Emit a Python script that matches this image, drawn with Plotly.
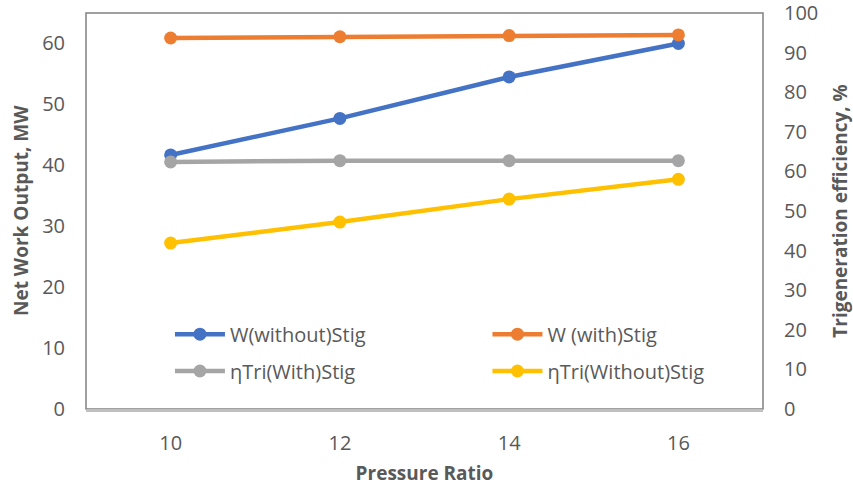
import plotly.graph_objects as go

pressure_ratio = [10, 12, 14, 16]
w_without_stig = [41.7, 47.7, 54.5, 60.0]
w_with_stig = [60.9, 61.1, 61.3, 61.4]
eta_tri_with_stig = [62.4, 62.7, 62.7, 62.7]
eta_tri_without_stig = [41.9, 47.2, 53.0, 58.0]

x_ticks = [10, 12, 14, 16]
left_ticks = [0, 10, 20, 30, 40, 50, 60]
right_ticks = [0, 10, 20, 30, 40, 50, 60, 70, 80, 90, 100]

FONT = "Open Sans"
TXT = "#595959"

series = [
    ("W(without)Stig", w_without_stig, "y", "#4472C4", "legend"),
    ("W (with)Stig", w_with_stig, "y", "#ED7D31", "legend2"),
    ("\u03b7Tri(With)Stig", eta_tri_with_stig, "y2", "#A5A5A5", "legend3"),
    ("\u03b7Tri(Without)Stig", eta_tri_without_stig, "y2", "#FFC000", "legend4"),
]

fig = go.Figure()
for name, vals, yax, color, leg in series:
    fig.add_trace(go.Scatter(
        x=pressure_ratio, y=vals, name=name, yaxis=yax, mode="lines+markers",
        line=dict(color=color, width=4.5),
        marker=dict(color=color, size=13),
        legend=leg, showlegend=True,
    ))

def legend_box(x, y):
    return dict(x=x, y=y, xanchor="left", yanchor="middle", bgcolor="rgba(0,0,0,0)",
                font=dict(family=FONT, size=20, color=TXT), itemwidth=50)

title_font = dict(family=FONT, size=19, color=TXT)
tick_font = dict(family=FONT, size=20, color=TXT)

fig.update_layout(
    width=853, height=486,
    margin=dict(l=86, r=90, t=13, b=77, autoexpand=False),
    showlegend=True,
    plot_bgcolor="white", paper_bgcolor="white",
    font=dict(family=FONT, color=TXT, size=20),
    xaxis=dict(
        range=[9, 17], tickvals=x_ticks, showgrid=False, zeroline=False,
        showline=True, linecolor="#BFBFBF", linewidth=3, ticks="",
        ticklabelstandoff=14, automargin=False,
        tickfont=tick_font,
        title=dict(text="<b>Pressure Ratio</b>", font=title_font, standoff=16),
    ),
    yaxis=dict(
        range=[0, 65], tickvals=left_ticks, showgrid=False, zeroline=False,
        showline=False, ticks="", ticklabelstandoff=20, automargin=False,
        tickfont=tick_font,
    ),
    yaxis2=dict(
        range=[0, 100], tickvals=right_ticks, overlaying="y", side="right",
        showgrid=False, zeroline=False, showline=False, ticks="", ticklabelstandoff=20,
        automargin=False, ticklabeloverflow="allow",
        tickfont=tick_font,
        title=dict(text="<b>Trigeneration efficiency, %</b>", font=title_font, standoff=26),
    ),
    legend=legend_box(0.124, 0.189),
    legend2=legend_box(0.593, 0.189),
    legend3=legend_box(0.124, 0.096),
    legend4=legend_box(0.593, 0.096),
    annotations=[dict(text="<b>Net Work Output, MW</b>", xref="paper", yref="paper",
                      x=0, y=0.5, xshift=-65, xanchor="center", yanchor="middle",
                      textangle=-90, showarrow=False, font=title_font)],
    shapes=[dict(type="rect", xref="paper", yref="paper", x0=0, x1=1, y0=0, y1=1,
                 line=dict(color="#808080", width=1.5), layer="below")],
)

fig.write_html("out.html")
